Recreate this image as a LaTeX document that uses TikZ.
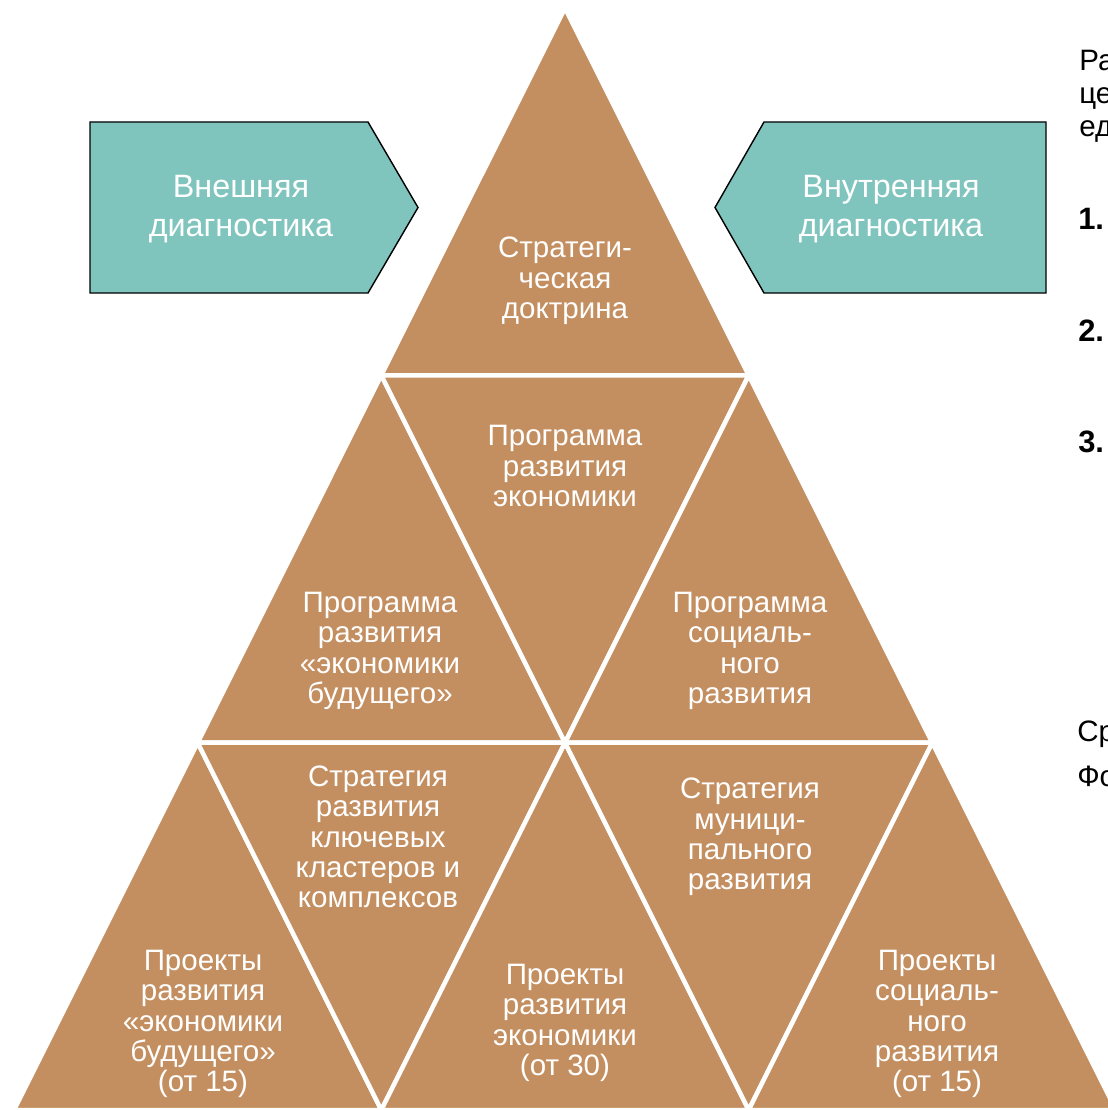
\documentclass[tikz,border=0pt]{standalone}
\usepackage{fontspec}
\setmainfont{Liberation Sans}
\usepackage{tikz}
\usetikzlibrary{positioning}
\definecolor{brick}{RGB}{196,143,96}
\definecolor{seagreen}{RGB}{128,196,190}
\newcommand{\trifont}{\fontsize{21}{21.6}\selectfont}
\newcommand{\sigfont}{\fontsize{23}{27.2}\selectfont}
\newcommand{\sidefont}{\fontsize{21}{23.4}\selectfont}

\begin{document}
\begin{tikzpicture}[x=0.025cm,y=-0.025cm]
    \tikzstyle{tri}=[fill=brick,draw=white,line width=3.2pt,line join=miter]
    \tikzstyle{signal}=[fill=seagreen,draw=black,line width=1pt,line join=miter]
    \tikzstyle{txt}=[text=white,align=center,font=\trifont,inner sep=0pt]
    \tikzstyle{sig}=[text=white,align=center,font=\sigfont,inner sep=0pt]
    \tikzstyle{side}=[anchor=west,font=\sidefont,inner sep=0pt]
    \tikzstyle{num}=[anchor=west,font=\fontsize{22}{24}\selectfont\bfseries,inner sep=0pt]
    \useasboundingbox (0,0) rectangle (1107,1110);

    % grid of the pyramid
    \coordinate (a)  at (565,8);
    \coordinate (b1) at (381.3,375.3);
    \coordinate (b2) at (748.7,375.3);
    \coordinate (c1) at (197.7,742.7);
    \coordinate (c2) at (565,742.7);
    \coordinate (c3) at (932.3,742.7);
    \coordinate (d1) at (14,1110);
    \coordinate (d2) at (381.3,1110);
    \coordinate (d3) at (748.7,1110);
    \coordinate (d4) at (1116,1110);

    \begin{scope}
      \draw[tri] (a) -- (b1) -- (b2) -- cycle;
      \draw[tri] (b1) -- (c1) -- (c2) -- cycle;
      \draw[tri] (b1) -- (b2) -- (c2) -- cycle;
      \draw[tri] (b2) -- (c2) -- (c3) -- cycle;
      \draw[tri] (c1) -- (d1) -- (d2) -- cycle;
      \draw[tri] (c1) -- (c2) -- (d2) -- cycle;
      \draw[tri] (c2) -- (d2) -- (d3) -- cycle;
      \draw[tri] (c2) -- (c3) -- (d3) -- cycle;
      \draw[tri] (c3) -- (d3) -- (d4) -- cycle;
    \end{scope}

    \node[txt](doctrine) at (565,281){Стратеги-\\ческая\\доктрина};
    \node[txt](econ) at (565,466){Программа\\развития\\экономики};
    \node[txt](futprog) at (380,651){Программа\\развития\\«экономики\\будущего»};
    \node[txt](socprog) at (750,651){Программа\\социаль-\\ного\\развития};
    \node[txt](cluster) at (378,837){Стратегия\\развития\\ключевых\\кластеров и\\комплексов};
    \node[txt](munic) at (750,837){Стратегия\\муници-\\пального\\развития};
    \node[txt](futproj) at (203,1024){Проекты\\развития\\«экономики\\будущего»\\(от 15)};
    \node[txt](econproj) at (565,1023){Проекты\\развития\\экономики\\(от 30)};
    \node[txt](socproj) at (937,1024){Проекты\\социаль-\\ного\\развития\\(от 15)};

    % diagnostics
    \draw[signal] (90,122) -- (368,122) -- (418,207.5) -- (368,293) -- (90,293) -- cycle;
    \node[sig](ext) at (241,209){Внешняя\\диагностика};
    \draw[signal] (1046,122) -- (764,122) -- (715,207.5) -- (764,293) -- (1046,293) -- cycle;
    \node[sig](int) at (891,209){Внутренняя\\диагностика};

    % text on the right, cut off by the page
    \node[side,anchor=north west,align=left](head) at (1079,50){Ра\\це\\ед};
    \node[num](one) at (1078,219){1.};
    \node[num](two) at (1078,331){2.};
    \node[num](three) at (1078,442){3.};
    \node[side](sr) at (1077,734){Ср};
    \node[side](fo) at (1077,776){Фо};
\end{tikzpicture}
\end{document}
